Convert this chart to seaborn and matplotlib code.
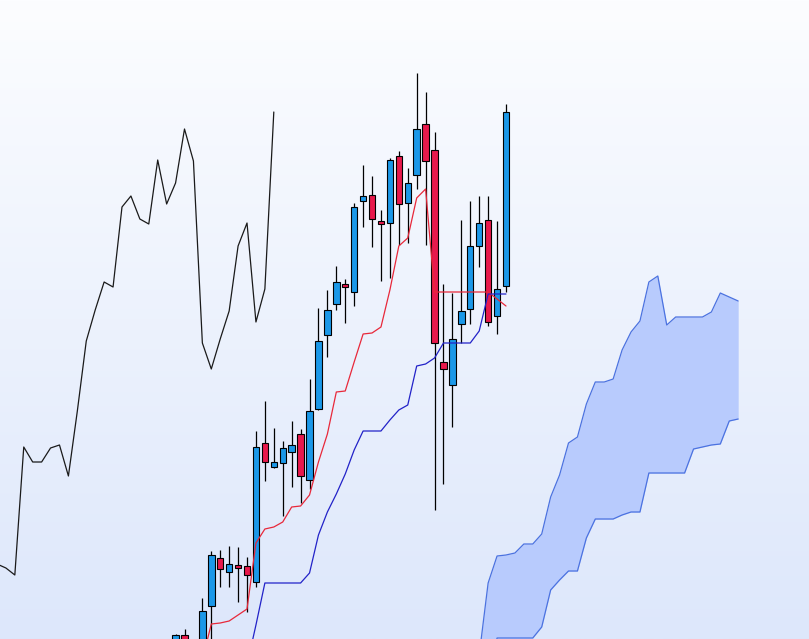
import numpy as np
import pandas as pd
import matplotlib
matplotlib.use("Agg")
import matplotlib.pyplot as plt
import seaborn as sns

# velas (precios)
opens = [991, 1004, 994, 989, 1033, 1081, 1067, 1074, 1073, 1057, 1196, 1172,
         1176, 1187, 1205, 1159, 1230, 1304, 1335, 1355, 1347, 1438, 1444, 1418,
         1416, 1483, 1436, 1464, 1515, 1489, 1277, 1254, 1315, 1330, 1393, 1419,
         1323, 1353]
highs = [1005, 1010, 998, 1041, 1088, 1089, 1093, 1092, 1082, 1208, 1238, 1211,
         1198, 1218, 1210, 1260, 1331, 1349, 1373, 1360, 1436, 1474, 1463, 1429,
         1481, 1488, 1471, 1566, 1547, 1507, 1355, 1346, 1419, 1438, 1443, 1443,
         1418, 1535]
lows = [987, 989, 977, 984, 994, 1052, 1052, 1037, 1027, 1052, 1158, 1171,
        1123, 1152, 1136, 1150, 1229, 1282, 1329, 1316, 1333, 1412, 1392, 1358,
        1361, 1394, 1396, 1450, 1394, 1129, 1155, 1212, 1296, 1315, 1372, 1313,
        1305, 1347]
closes = [1004, 994, 983, 1028, 1084, 1070, 1075, 1071, 1064, 1192, 1177, 1177,
          1191, 1194, 1163, 1228, 1298, 1329, 1357, 1352, 1432, 1443, 1420, 1415,
          1479, 1435, 1456, 1510, 1478, 1296, 1270, 1300, 1328, 1393, 1416, 1317,
          1350, 1527]

# lineas ichimoku
desplazamiento = 26
tenkan_inicio = 3
tenkan = [979, 1015, 1016, 1018, 1024, 1030, 1096, 1110, 1112, 1117, 1132, 1133,
          1144, 1177, 1205, 1247, 1248, 1277, 1305, 1306, 1312, 1349, 1393, 1401,
          1441, 1450, 1347, 1347, 1347, 1347, 1347, 1347, 1347, 1340, 1333]
kijun_inicio = 8
kijun = [974, 1014, 1056, 1056, 1056, 1056, 1056, 1066, 1104, 1127, 1145, 1165,
         1189, 1208, 1208, 1208, 1219, 1229, 1234, 1273, 1275, 1281, 1296, 1296,
         1296, 1296, 1308, 1345, 1345, 1345]
nube_inicio = 34
senkou_a = [984, 1056, 1083, 1084, 1086, 1095, 1095, 1105, 1142, 1164, 1196, 1202,
            1235, 1257, 1257, 1260, 1289, 1307, 1318, 1357, 1363, 1314, 1322, 1322,
            1322, 1322, 1327, 1346, 1342, 1338]
senkou_b = [955, 959, 1001, 1001, 1001, 1001, 1001, 1012, 1049, 1059, 1068, 1068,
            1101, 1120, 1120, 1120, 1124, 1127, 1127, 1166, 1166, 1166, 1166, 1166,
            1190, 1192, 1194, 1195, 1218, 1220]

df = pd.DataFrame({"open": opens, "high": highs, "low": lows, "close": closes})
df["idx"] = np.arange(len(df))
df_tenkan = pd.DataFrame({"x": np.arange(len(tenkan)) + tenkan_inicio, "y": tenkan})
df_kijun = pd.DataFrame({"x": np.arange(len(kijun)) + kijun_inicio, "y": kijun})
df_chikou = pd.DataFrame({"x": df["idx"] - desplazamiento, "y": df["close"]})
k = np.arange(len(senkou_a)) + nube_inicio
df_nube = pd.DataFrame({"x": k, "a": senkou_a, "b": senkou_b})

sns.set_style("white")
fig = plt.figure(figsize=(8.09, 6.39), dpi=100)
ax = fig.add_axes([0, 0, 1, 1])
xmin, xmax = -19.66, 70.93
ymin, ymax = 1000, 1639

# fondo degradado
arriba = np.array([252, 253, 255]) / 255
abajo = np.array([221, 231, 251]) / 255
t = np.linspace(0, 1, 256).reshape(-1, 1, 1)
grad = arriba * (1 - t) + abajo * t
ax.imshow(grad, extent=[xmin, xmax, ymin, ymax], aspect="auto", origin="upper", zorder=0)

# nube
ax.fill_between(df_nube["x"], df_nube["a"], df_nube["b"], color="#b8cbfd", zorder=1, lw=0)
sns.lineplot(data=df_nube, x="x", y="a", ax=ax, color="#4b72e0", lw=0.9, zorder=2)
sns.lineplot(data=df_nube, x="x", y="b", ax=ax, color="#4b72e0", lw=0.9, zorder=2)

# velas
sube = df["close"] >= df["open"]
colores = np.where(sube, "#1b98e8", "#e8194c")
ax.vlines(df["idx"], df["low"], df["high"], color="black", lw=0.9, zorder=3)
cuerpo = (df["close"] - df["open"]).abs()
ax.bar(df["idx"], cuerpo, bottom=df[["open", "close"]].min(axis=1), width=0.72,
       color=colores, edgecolor="black", linewidth=0.8, zorder=4)

# lineas
sns.lineplot(data=df_chikou, x="x", y="y", ax=ax, color="#1a1a1a", lw=0.9, zorder=5)
sns.lineplot(data=df_tenkan, x="x", y="y", ax=ax, color="#e8283a", lw=0.9, zorder=5)
sns.lineplot(data=df_kijun, x="x", y="y", ax=ax, color="#2222c8", lw=0.9, zorder=5)

ax.set_xlim(xmin, xmax)
ax.set_ylim(ymin, ymax)
ax.axis("off")
fig.savefig("out.png", dpi=100)
